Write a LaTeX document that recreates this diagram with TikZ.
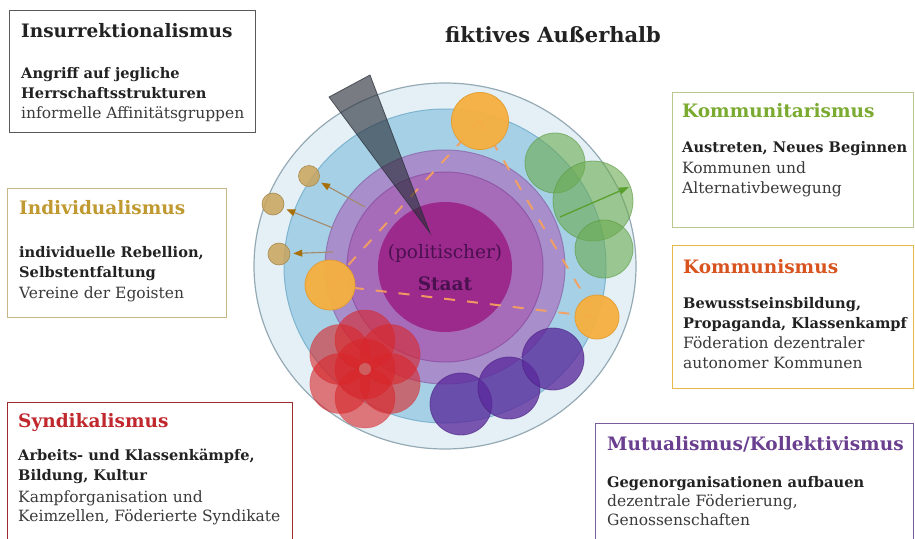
\documentclass[tikz,border=0pt]{standalone}
\usepackage{fontspec}
\setmainfont{DejaVu Serif}
\usetikzlibrary{arrows.meta}
\definecolor{ringA}{HTML}{E4F0F6}
\definecolor{ringAd}{HTML}{95AAB5}
\definecolor{ringB}{HTML}{A6D0E6}
\definecolor{ringBd}{HTML}{7EB4CF}
\definecolor{ringC}{HTML}{A88ECB}
\definecolor{ringCd}{HTML}{9077B5}
\definecolor{ringD}{HTML}{A66CBA}
\definecolor{ringDd}{HTML}{9258A8}
\definecolor{ringE}{HTML}{9C2A8C}
\definecolor{staatc}{HTML}{4A1050}
\definecolor{orangeF}{HTML}{F5B041}
\definecolor{orangeD}{HTML}{E09A30}
\definecolor{dashc}{HTML}{F4A060}
\definecolor{khakiF}{HTML}{C9A45C}
\definecolor{khakiD}{HTML}{A88A50}
\definecolor{arrowL}{HTML}{A58A6A}
\definecolor{arrowH}{HTML}{A8700A}
\definecolor{greenF}{HTML}{6AAA4F}
\definecolor{greenD}{HTML}{5A9A40}
\definecolor{greenA}{HTML}{5AA02C}
\definecolor{redF}{HTML}{D8262A}
\definecolor{purpF}{HTML}{5A2A9C}
\definecolor{purpD}{HTML}{4A2080}
\definecolor{wedgeF}{HTML}{262C36}
\definecolor{insT}{HTML}{222222}
\definecolor{indT}{HTML}{C09A30}
\definecolor{indB}{HTML}{C8B888}
\definecolor{kmtT}{HTML}{7AAA30}
\definecolor{kmtB}{HTML}{B8C890}
\definecolor{kmsT}{HTML}{D9531E}
\definecolor{kmsB}{HTML}{E8B84A}
\definecolor{synT}{HTML}{C0282E}
\definecolor{synB}{HTML}{9C2B2F}
\definecolor{mutT}{HTML}{6A3F90}
\definecolor{mutB}{HTML}{7A5C9A}
\definecolor{boldT}{HTML}{222222}
\definecolor{regT}{HTML}{3A3A3A}
\begin{document}
\begin{tikzpicture}[x=1pt,y=-1pt,
  ttl/.style={anchor=base west, inner sep=0pt, font=\fontsize{18.5}{21}\selectfont\bfseries},
  bb/.style={anchor=base west, inner sep=0pt, text=boldT, font=\fontsize{14.6}{17}\selectfont\bfseries},
  rr/.style={anchor=base west, inner sep=0pt, text=regT, font=\fontsize{15.5}{18}\selectfont},
  framebox/.style={draw, line width=1.4pt, fill=white, anchor=north west, inner sep=0pt},
  orangec/.style={circle, inner sep=0pt, fill=orangeF, fill opacity=0.8, draw=orangeD, draw opacity=0.6, line width=0.8pt},
  khakic/.style={circle, inner sep=0pt, fill=khakiF, fill opacity=0.85, draw=khakiD, line width=0.6pt},
  greenc/.style={circle, inner sep=0pt, fill=greenF, fill opacity=0.6, draw=greenD, draw opacity=0.6, line width=0.8pt},
  purpc/.style={circle, inner sep=0pt, fill=purpF, fill opacity=0.78, draw=purpD, draw opacity=0.6, line width=0.8pt},
  redc/.style={fill=redF, fill opacity=0.6, draw=redF, draw opacity=0.4, line width=0.6pt},
  outarrow/.style={draw=arrowL, line width=1.1pt, -{Triangle[length=9pt,width=7pt,color=arrowH,fill=arrowH]}},
  greenarrow/.style={draw=greenA, line width=1.3pt, -{Triangle[length=10pt,width=7pt,color=greenA,fill=greenA]}},
  dashline/.style={draw=dashc, line width=2pt, dash pattern=on 11pt off 12pt, draw opacity=0.95}
]
\useasboundingbox[fill=white] (0,0) rectangle (915,538);

% concentric rings
\draw[fill=ringA, draw=ringAd, line width=1.2pt] (445,266) ellipse [x radius=191pt, y radius=183pt];
\draw[fill=ringB, draw=ringBd, line width=1pt] (445,266) ellipse [x radius=161pt, y radius=157pt];
\draw[fill=ringC, draw=ringCd, line width=1pt] (445,267) ellipse [x radius=120pt, y radius=117pt];
\draw[fill=ringD, draw=ringDd, line width=1pt] (445,267) ellipse [x radius=98pt, y radius=95pt];
\fill[ringE] (445,267) ellipse [x radius=67pt, y radius=65pt];

% state text
\node[inner sep=0pt, text=staatc, font=\fontsize{18.5}{20}\selectfont] (pol) at (445,253) {(politischer)};
\node[inner sep=0pt, text=staatc, font=\fontsize{18.5}{20}\selectfont\bfseries] (staat) at (445,284) {Staat};

% orange circles (positions) and dashed triangle
\node[orangec, minimum size=57pt] (o1) at (480,121) {};
\node[orangec, minimum size=50pt] (o2) at (330,285) {};
\node[orangec, minimum size=44pt] (o3) at (597,317) {};
\path[dashline] (o1.center) -- (o2.center);
\path[dashline] (o1.center) -- (o3.center);
\path[dashline] (o2.center) -- (o3.center);

% wedge
\filldraw[fill=wedgeF, fill opacity=0.62, draw=wedgeF, draw opacity=0.7, line width=0.8pt] (329,97) -- (370,75) -- (430,233) -- cycle;

% redraw orange circles above dashes
\node[orangec, minimum size=57pt] (o1b) at (480,121) {};
\node[orangec, minimum size=50pt] (o2b) at (330,285) {};
\node[orangec, minimum size=44pt] (o3b) at (597,317) {};

% green circles
\node[greenc, minimum size=60pt] (g1) at (555,163) {};
\node[greenc, minimum size=80pt] (g2) at (593,201) {};
\node[greenc, minimum size=58pt] (g3) at (604,249) {};
\coordinate (gs) at (560,217);
\coordinate (ge) at (629,187);
\draw[greenarrow] (gs) -- (ge);

% purple circles
\node[purpc, minimum size=62pt] (p1) at (461,404) {};
\node[purpc, minimum size=62pt] (p2) at (509,388) {};
\node[purpc, minimum size=62pt] (p3) at (553,359) {};

% red flower
\begin{scope}[shift={(365,369)}]
  \filldraw[redc] (0,0) circle (30pt);
  \foreach \a in {30,90,150,210,270,330} {
    \filldraw[redc] (\a:29) circle (30pt);
  }
  \fill[gray!60!red!70, fill opacity=0.6] (0,0) circle (6pt);
\end{scope}

% small khaki circles with arrows
\node[khakic, minimum size=21pt] (k1) at (309,176) {};
\node[khakic, minimum size=22pt] (k2) at (273,204) {};
\node[khakic, minimum size=22pt] (k3) at (279,254) {};
\coordinate (a1) at (365,207);
\coordinate (a2) at (333,228);
\coordinate (a3) at (333,252);
\draw[outarrow, shorten >=3pt] (a1) -- (k1);
\draw[outarrow, shorten >=3pt] (a2) -- (k2);
\draw[outarrow, shorten >=3pt] (a3) -- (k3);

% headline
\node[anchor=base west, inner sep=0pt, text=insT, font=\fontsize{21}{24}\selectfont\bfseries] (head) at (445,42) {fiktives Außerhalb};

% Insurrektionalismus
\node[framebox, draw=black!65, minimum width=246pt, minimum height=122pt] (insBox) at (9,10) {};
\node[ttl, text=insT] (ins0) at (21,37) {Insurrektionalismus};
\node[bb] (ins1) at (21,78) {Angriff auf jegliche};
\node[bb] (ins2) at (21,98) {Herrschaftsstrukturen};
\node[rr] (ins3) at (21,118) {informelle Affinitätsgruppen};

% Individualismus
\node[framebox, draw=indB, minimum width=219pt, minimum height=129pt] (indBox) at (7,188) {};
\node[ttl, text=indT] (ind0) at (19,214) {Individualismus};
\node[bb] (ind1) at (19,257) {individuelle Rebellion,};
\node[bb] (ind2) at (19,277) {Selbstentfaltung};
\node[rr] (ind3) at (19,298) {Vereine der Egoisten};

% Kommunitarismus
\node[framebox, draw=kmtB, minimum width=241pt, minimum height=135pt] (kmtBox) at (672,92) {};
\node[ttl, text=kmtT] (kmt0) at (682,117) {Kommunitarismus};
\node[bb] (kmt1) at (682,152) {Austreten, Neues Beginnen};
\node[rr] (kmt2) at (682,173) {Kommunen und};
\node[rr] (kmt3) at (682,193) {Alternativbewegung};

% Kommunismus
\node[framebox, draw=kmsB, minimum width=241pt, minimum height=143pt] (kmsBox) at (672,245) {};
\node[ttl, text=kmsT] (kms0) at (683,273) {Kommunismus};
\node[bb] (kms1) at (683,308) {Bewusstseinsbildung,};
\node[bb] (kms2) at (683,328) {Propaganda, Klassenkampf};
\node[rr] (kms3) at (683,348) {Föderation dezentraler};
\node[rr] (kms4) at (683,368) {autonomer Kommunen};

% Syndikalismus
\node[framebox, draw=synB, minimum width=285pt, minimum height=150pt] (synBox) at (7,402) {};
\node[ttl, text=synT] (syn0) at (18,427) {Syndikalismus};
\node[bb] (syn1) at (18,460) {Arbeits- und Klassenkämpfe,};
\node[bb] (syn2) at (18,480) {Bildung, Kultur};
\node[rr] (syn3) at (18,502) {Kampforganisation und};
\node[rr] (syn4) at (18,521) {Keimzellen, Föderierte Syndikate};

% Mutualismus
\node[framebox, draw=mutB, minimum width=318pt, minimum height=130pt] (mutBox) at (595,423) {};
\node[ttl, text=mutT] (mut0) at (607,450) {Mutualismus/Kollektivismus};
\node[bb] (mut1) at (607,487) {Gegenorganisationen aufbauen};
\node[rr] (mut2) at (607,506) {dezentrale Föderierung,};
\node[rr] (mut3) at (607,525) {Genossenschaften};
\end{tikzpicture}
\end{document}
